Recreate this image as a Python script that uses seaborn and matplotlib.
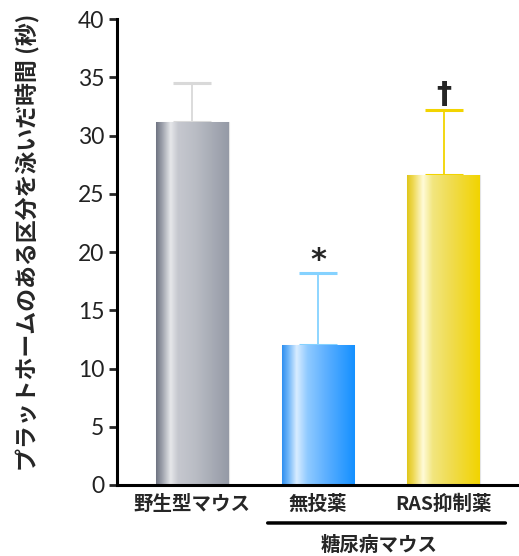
import numpy as np
import pandas as pd
import seaborn as sns
import matplotlib.pyplot as plt
from matplotlib.colors import LinearSegmentedColormap

# data
groups = ['野生型マウス', '無投薬', 'RAS抑制薬']
means = [31.2, 12.0, 26.6]
errors = [3.3, 6.2, 5.6]
marks = ['', '*', '†']
y_ticks = [0, 5, 10, 15, 20, 25, 30, 35, 40]

# bar shading (left -> right across each bar)
shades = [
    [(0.0, '#6f7482'), (0.08, '#9a9ea9'), (0.2, '#e6e7ea'), (0.3, '#c6c8cf'),
     (0.55, '#b9bcc4'), (1.0, '#959aa6')],
    [(0.0, '#2f8ff0'), (0.08, '#6ab3f8'), (0.2, '#d8ecff'), (0.35, '#8fcaff'),
     (0.6, '#5eb0ff'), (1.0, '#1490ff')],
    [(0.0, '#e0c61a'), (0.08, '#eed850'), (0.22, '#fffbd8'), (0.35, '#f2e680'),
     (0.6, '#f0dc50'), (1.0, '#f2d400')],
]
err_colors = ['#d9d9d9', '#85d2ff', '#f2d400']

sns.set_style('white')
plt.rcParams['font.family'] = ['Noto Sans CJK JP', 'DejaVu Sans']

df = pd.DataFrame({'group': groups, 'value': means})

fig = plt.figure(figsize=(5.19, 5.56), dpi=100)
ax = fig.add_axes([0.2254, 0.1277, 0.7746, 0.8381])

sns.barplot(data=df, x='group', y='value', hue='group', palette=['#bbbbbb'] * 3,
            width=0.58, legend=False, ax=ax, edgecolor='#e4e4e4', linewidth=0.8)

grad = np.linspace(0, 1, 256).reshape(1, -1)
for patch, shade in zip(ax.patches, shades):
    x0, w, h = patch.get_x(), patch.get_width(), patch.get_height()
    cmap = LinearSegmentedColormap.from_list('bar', shade)
    im = ax.imshow(grad, cmap=cmap, extent=[x0, x0 + w, 0, h], aspect='auto',
                   zorder=patch.get_zorder() + 0.1)
    im.set_clip_path(patch)

for i, (m, e, c, mk) in enumerate(zip(means, errors, err_colors, marks)):
    ax.errorbar(i, m, yerr=[[0], [e]], color=c, capsize=13.5, elinewidth=1.3,
                capthick=2.2, zorder=1)
    if mk == '*':
        ax.text(i, m + e - 0.2, mk, ha='center', va='bottom', fontsize=22,
                fontweight='bold', family='DejaVu Sans')
    elif mk:
        ax.text(i, m + e + 0.1, mk, ha='center', va='bottom', fontsize=22,
                fontweight='bold', family='DejaVu Sans')

ax.set_xlim(-0.6, 2.6)
ax.set_ylim(0, 40)
ax.set_yticks(y_ticks)
ax.set_yticklabels([str(t) for t in y_ticks], fontsize=16.5, family='Lato',
                   color='#222222')
ax.set_xlabel('')
ax.set_ylabel('プラットホームのある区分を泳いだ時間 (秒)', fontsize=16.5,
              fontweight='bold')
ax.yaxis.set_label_coords(-0.19, 0.52)
ax.tick_params(axis='y', direction='out', length=6, width=2, left=True, pad=3)
ax.tick_params(axis='x', length=0, pad=7)
for lbl in ax.get_xticklabels():
    lbl.set_fontsize(14)
    lbl.set_fontweight('bold')

for side in ['top', 'right']:
    ax.spines[side].set_visible(False)
for side in ['left', 'bottom']:
    ax.spines[side].set_linewidth(2.2)
    ax.spines[side].set_color('black')

# group bracket under the two diabetic groups
ax.annotate('', xy=(0.973, -0.0815), xytext=(0.368, -0.0815), xycoords='axes fraction',
            arrowprops=dict(arrowstyle='-', lw=2.5, color='black'))
ax.text(0.652, -0.129, '糖尿病マウス', transform=ax.transAxes, ha='center', va='center',
        fontsize=14, fontweight='bold')

fig.savefig('out.png', dpi=100)
